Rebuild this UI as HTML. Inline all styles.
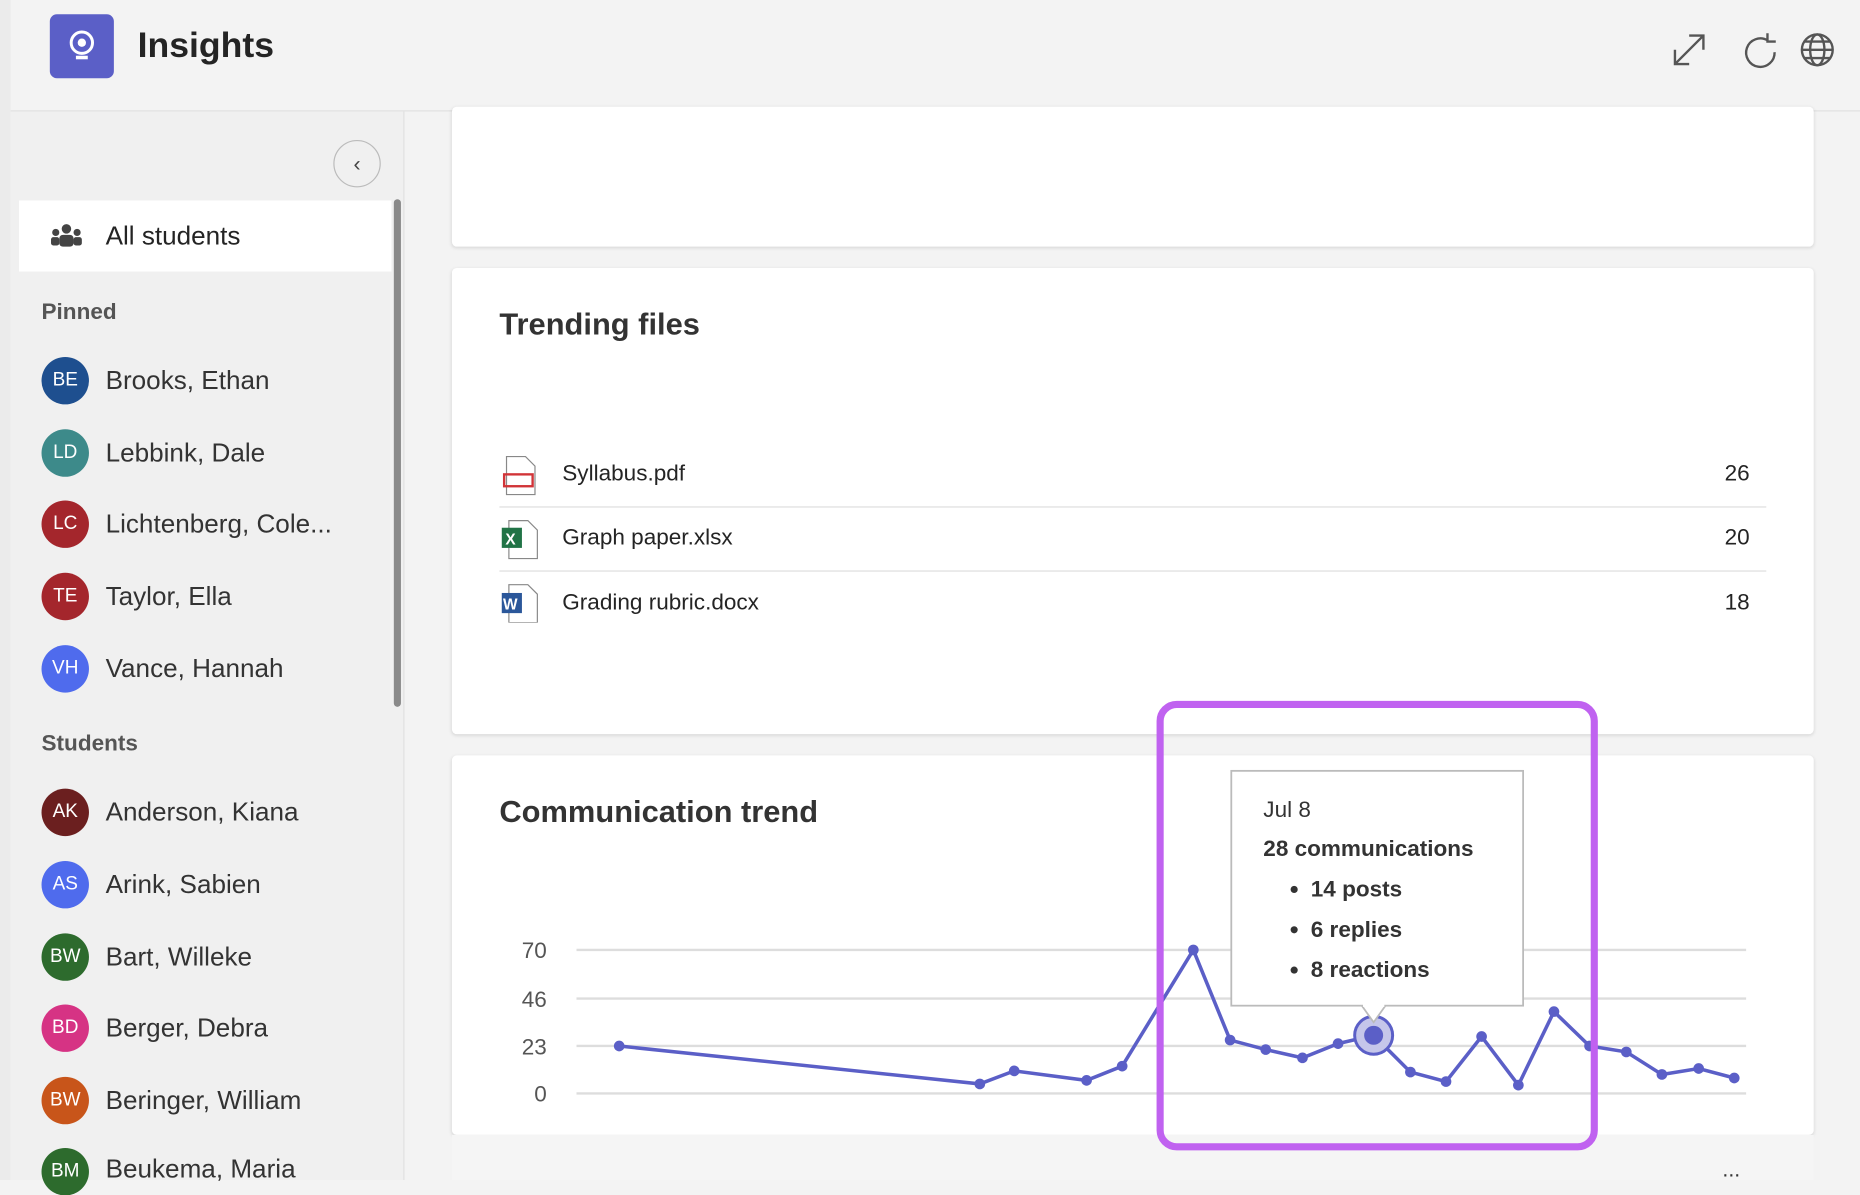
<!DOCTYPE html>
<html><head><meta charset="utf-8"><style>
html,body{margin:0;padding:0;width:1860px;height:1180px;overflow:hidden;background:#f3f3f3;font-family:"Liberation Sans",sans-serif;}
#w{position:absolute;left:0;top:0;width:1568px;height:995px;transform:scale(1.18622,1.18593);transform-origin:0 0;background:#f3f3f3;}
.a{position:absolute;}
.card{position:absolute;background:#fff;border-radius:4px;box-shadow:0 1px 3px rgba(0,0,0,.12);}
.av{position:absolute;left:35px;width:40px;height:40px;border-radius:50%;color:#fff;font-size:16px;text-align:center;line-height:40px;}
.nm{position:absolute;left:89px;font-size:22px;color:#333;}
.sec{position:absolute;left:35px;font-size:19px;font-weight:bold;color:#555;}
.row{position:absolute;left:421px;width:1068px;height:54px;border-bottom:1.5px solid #ddd;font-size:19px;color:#242424;}
</style></head><body><div id="w">
<div class="a" style="left:0;top:0;width:9px;height:995px;background:#ebebeb"></div>
<div class="a" style="left:42px;top:12px;width:54px;height:54px;background:#5b5fc7;border-radius:6px"></div>
<svg class="a" style="left:56px;top:24px" width="26" height="30"><circle cx="13" cy="12" r="9" fill="none" stroke="#fff" stroke-width="2.5"/><circle cx="13" cy="12" r="3.5" fill="#fff"/><rect x="8" y="23" width="10" height="3" fill="#fff"/></svg>
<div class="a" style="left:116px;top:22px;font-size:30px;font-weight:bold;color:#242424">Insights</div>
<svg class="a" style="left:1408px;top:26px" width="140" height="32" fill="none" stroke="#555" stroke-width="2"><path d="M4 28L28 4M16 4h12v12M4 16v12h12"/><path d="M82 8a12 12 0 1 0 6 10M82 2v7h7"/><circle cx="124" cy="16" r="13"/><ellipse cx="124" cy="16" rx="6" ry="13"/><path d="M111 16h26M113 9h22M113 23h22"/></svg>
<div class="a" style="left:9px;top:93px;width:1559px;height:1px;background:#e0e0e0"></div>
<div class="a" style="left:9px;top:94px;width:331px;height:901px;background:#f0f0f0;border-right:1px solid #e0e0e0"></div>
<div class="a" style="left:281px;top:118px;width:38px;height:38px;border:1.5px solid #bbb;border-radius:50%;text-align:center;line-height:38px;color:#444;font-size:18px">‹</div>
<div class="a" style="left:332px;top:168px;width:6px;height:428px;background:#8a8a8a;border-radius:3px"></div>
<div class="a" style="left:16px;top:169px;width:314px;height:60px;background:#fff"></div>
<svg class="a" style="left:42px;top:188px" width="28" height="22" fill="#444"><circle cx="14" cy="5" r="4"/><circle cx="5" cy="8" r="3"/><circle cx="23" cy="8" r="3"/><rect x="8" y="10" width="12" height="10" rx="3"/><rect x="1" y="12" width="7" height="7" rx="2"/><rect x="20" y="12" width="7" height="7" rx="2"/></svg>
<div class="nm" style="top:186px;color:#242424">All students</div>
<div class="sec" style="top:253px">Pinned</div>
<div class="av" style="top:301px;background:#1e4f8f">BE</div><div class="nm" style="top:308px">Brooks, Ethan</div>
<div class="av" style="top:362px;background:#3d8a8a">LD</div><div class="nm" style="top:369px">Lebbink, Dale</div>
<div class="av" style="top:422px;background:#a4262c">LC</div><div class="nm" style="top:429px">Lichtenberg, Cole...</div>
<div class="av" style="top:483px;background:#a4262c">TE</div><div class="nm" style="top:490px">Taylor, Ella</div>
<div class="av" style="top:544px;background:#4f6bed">VH</div><div class="nm" style="top:551px">Vance, Hannah</div>
<div class="sec" style="top:617px">Students</div>
<div class="av" style="top:665px;background:#6b1f1f">AK</div><div class="nm" style="top:672px">Anderson, Kiana</div>
<div class="av" style="top:726px;background:#4f6bed">AS</div><div class="nm" style="top:733px">Arink, Sabien</div>
<div class="av" style="top:787px;background:#2d6b2d">BW</div><div class="nm" style="top:794px">Bart, Willeke</div>
<div class="av" style="top:847px;background:#d63384">BD</div><div class="nm" style="top:854px">Berger, Debra</div>
<div class="av" style="top:908px;background:#c8551a">BW</div><div class="nm" style="top:915px">Beringer, William</div>
<div class="av" style="top:968px;background:#2d6b2d">BM</div><div class="nm" style="top:973px">Beukema, Maria</div>
<div class="card" style="left:381px;top:90px;width:1148px;height:118px"></div>
<div class="card" style="left:381px;top:226px;width:1148px;height:393px"></div>
<div class="a" style="left:421px;top:258px;font-size:26px;font-weight:bold;color:#333">Trending files</div>
<div class="row" style="top:373px"><span class="a" style="left:53px;top:16px">Syllabus.pdf</span><span class="a" style="right:14px;top:16px">26</span></div>
<div class="row" style="top:427px"><span class="a" style="left:53px;top:16px">Graph paper.xlsx</span><span class="a" style="right:14px;top:16px">20</span></div>
<div class="row" style="top:482px;border:none"><span class="a" style="left:53px;top:16px">Grading rubric.docx</span><span class="a" style="right:14px;top:16px">18</span></div>
<svg class="a" style="left:421px;top:383px" width="34" height="142"><path d="M6 2h16l8 8v24H6z" fill="#fff" stroke="#888"/><rect x="4" y="17" width="24" height="10" fill="none" stroke="#d13438" stroke-width="2"/><path d="M8 56h16l8 8v24H8z" fill="#fff" stroke="#888"/><rect x="2" y="62" width="17" height="17" fill="#217346"/><text x="5" y="76" fill="#fff" font-size="13" font-family="Liberation Sans" font-weight="bold">X</text><path d="M8 110h16l8 8v24H8z" fill="#fff" stroke="#888"/><rect x="2" y="117" width="17" height="17" fill="#2b579a"/><text x="3" y="131" fill="#fff" font-size="13" font-family="Liberation Sans" font-weight="bold">W</text></svg>
<div class="card" style="left:381px;top:637px;width:1148px;height:320px"></div>
<div class="a" style="left:381px;top:957px;width:1148px;height:38px;background:#f5f5f5"></div>
<div class="a" style="left:1452px;top:976px;font-size:18px;color:#333">...</div>
<div class="a" style="left:421px;top:669px;font-size:26px;font-weight:bold;color:#333">Communication trend</div>
<svg class="a" style="left:0;top:0" width="1568" height="995">
<g stroke="#ddd" stroke-width="2"><line x1="486" y1="801" x2="1472" y2="801"/><line x1="486" y1="842" x2="1472" y2="842"/><line x1="486" y1="882" x2="1472" y2="882"/><line x1="486" y1="922" x2="1472" y2="922"/></g>
<g font-family="Liberation Sans" font-size="19" fill="#555" text-anchor="end"><text x="461" y="808">70</text><text x="461" y="849">46</text><text x="461" y="889">23</text><text x="461" y="929">0</text></g>
<polyline fill="none" stroke="#5b5fc7" stroke-width="3" points="522,882 826,914 855,903 916,911 946,899 1006,801 1037,877 1067,885 1098,892 1128,880 1158,873 1189,904 1219,912 1249,874 1280,915 1310,853 1340,882 1371,887 1401,906 1432,901 1462,909"/>
<g fill="#5b5fc7"><circle cx="522" cy="882" r="4.5"/><circle cx="826" cy="914" r="4.5"/><circle cx="855" cy="903" r="4.5"/><circle cx="916" cy="911" r="4.5"/><circle cx="946" cy="899" r="4.5"/><circle cx="1006" cy="801" r="4.5"/><circle cx="1037" cy="877" r="4.5"/><circle cx="1067" cy="885" r="4.5"/><circle cx="1098" cy="892" r="4.5"/><circle cx="1128" cy="880" r="4.5"/><circle cx="1189" cy="904" r="4.5"/><circle cx="1219" cy="912" r="4.5"/><circle cx="1249" cy="874" r="4.5"/><circle cx="1280" cy="915" r="4.5"/><circle cx="1310" cy="853" r="4.5"/><circle cx="1340" cy="882" r="4.5"/><circle cx="1371" cy="887" r="4.5"/><circle cx="1401" cy="906" r="4.5"/><circle cx="1432" cy="901" r="4.5"/><circle cx="1462" cy="909" r="4.5"/></g>
<circle cx="1158" cy="873" r="16" fill="#c5c6ea" stroke="#5b5fc7" stroke-width="2.5"/><circle cx="1158" cy="873" r="8" fill="#5b5fc7"/>
<rect x="1038" y="650" width="246" height="198" fill="#fff" stroke="#bbb" stroke-width="1.5"/>
<path d="M1148 848l10 14 10-14" fill="#fff" stroke="#bbb" stroke-width="1.5"/><line x1="1149" y1="848" x2="1167" y2="848" stroke="#fff" stroke-width="2"/>
<g font-family="Liberation Sans" font-size="19" fill="#333"><text x="1065" y="689">Jul 8</text><g font-weight="bold"><text x="1065" y="722">28 communications</text><text x="1105" y="756">14 posts</text><text x="1105" y="790">6 replies</text><text x="1105" y="824">8 reactions</text></g><circle cx="1091" cy="750" r="3"/><circle cx="1091" cy="784" r="3"/><circle cx="1091" cy="818" r="3"/></g>
<rect x="978" y="594" width="366" height="373" rx="14" fill="none" stroke="#c062f0" stroke-width="6"/>
</svg>
</div></body></html>
